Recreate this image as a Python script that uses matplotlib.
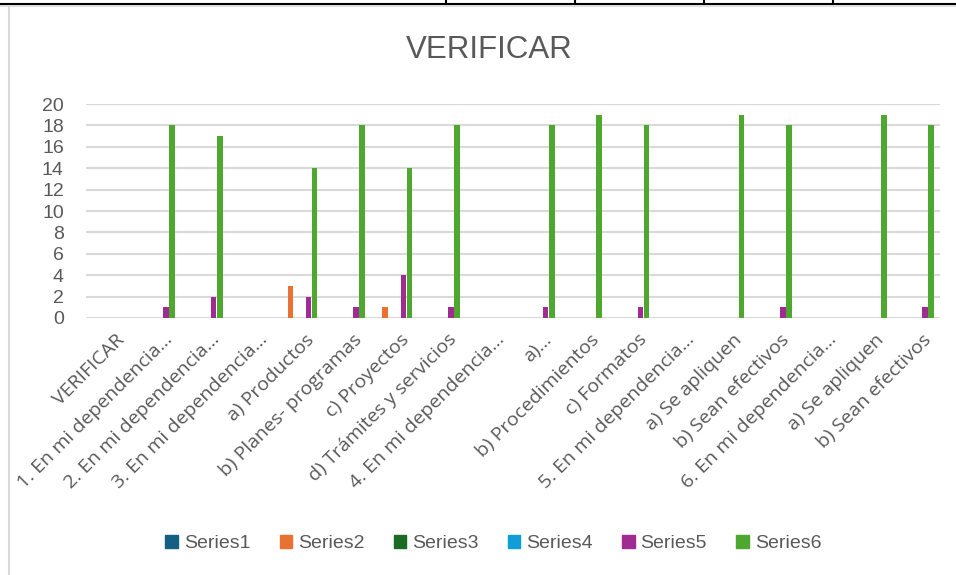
import matplotlib
matplotlib.use("Agg")
import matplotlib.pyplot as plt
import matplotlib.transforms as mtransforms
import numpy as np
from matplotlib.lines import Line2D
from matplotlib import font_manager

categories = [
    "VERIFICAR",
    "1. En mi dependencia…",
    "2. En mi dependencia…",
    "3. En mi dependencia…",
    "a) Productos",
    "b) Planes- programas",
    "c) Proyectos",
    "d) Trámites y servicios",
    "4. En mi dependencia…",
    "a)…",
    "b) Procedimientos",
    "c) Formatos",
    "5. En mi dependencia…",
    "a) Se apliquen",
    "b) Sean efectivos",
    "6. En mi dependencia…",
    "a) Se apliquen",
    "b) Sean efectivos",
]

series_names = ["Series1", "Series2", "Series3", "Series4", "Series5", "Series6"]
series1 = [0, 0, 0, 0, 0, 0, 0, 0, 0, 0, 0, 0, 0, 0, 0, 0, 0, 0]
series2 = [0, 0, 0, 0, 3, 0, 1, 0, 0, 0, 0, 0, 0, 0, 0, 0, 0, 0]
series3 = [0, 0, 0, 0, 0, 0, 0, 0, 0, 0, 0, 0, 0, 0, 0, 0, 0, 0]
series4 = [0, 0, 0, 0, 0, 0, 0, 0, 0, 0, 0, 0, 0, 0, 0, 0, 0, 0]
series5 = [0, 1, 2, 0, 2, 1, 4, 1, 0, 1, 0, 1, 0, 0, 1, 0, 0, 1]
series6 = [0, 18, 17, 0, 14, 18, 14, 18, 0, 18, 19, 18, 0, 19, 18, 0, 19, 18]
yticks = [0, 2, 4, 6, 8, 10, 12, 14, 16, 18, 20]

colors = ["#156082", "#E97132", "#196B24", "#0F9ED5", "#A02B93", "#4EA72E"]
text_color = "#595959"

available = {f.name for f in font_manager.fontManager.ttflist}
narrow = "Liberation Sans Narrow" if "Liberation Sans Narrow" in available else "Liberation Sans"

fig = plt.figure(figsize=(9.56, 5.75), dpi=100)
ax = fig.add_axes([0.090, 0.447, 0.893, 0.372])

all_series = [series1, series2, series3, series4, series5, series6]
x = np.arange(len(categories))
bw = 0.12
step = 0.127
for k, (vals, name, c) in enumerate(zip(all_series, series_names, colors)):
    off = (k - 2.5) * step
    ax.bar(x + off, vals, width=bw, color=c, label=name, zorder=3,
           edgecolor="none")

ax.set_xlim(-0.5, len(categories) - 0.5)
ax.set_ylim(0, 20)
ax.set_yticks(yticks)
ax.set_yticklabels([str(v) for v in yticks], family="Liberation Sans",
                   fontsize=14, color=text_color)
ax.yaxis.grid(True, color="#D9D9D9", linewidth=1.5, zorder=0)
ax.tick_params(axis="y", length=0, pad=16)
ax.tick_params(axis="x", length=0, pad=9)
ax.set_xticks(x)
ax.set_xticklabels(categories, rotation=45, ha="right", va="top",
                   rotation_mode="anchor", family="Open Sans",
                   fontsize=14, color=text_color)
shift = mtransforms.ScaledTranslation(6 / 100, 0, fig.dpi_scale_trans)
for lbl in ax.get_xticklabels():
    lbl.set_transform(lbl.get_transform() + shift)
for s in ax.spines.values():
    s.set_visible(False)

fig.text(0.512, 0.913, "VERIFICAR", ha="center", va="center",
         family=narrow, fontsize=22.5, color=text_color)

handles = [plt.Rectangle((0, 0), 1, 1, color=c) for c in colors]
leg = fig.legend(handles, series_names, loc="center", bbox_to_anchor=(0.516, 0.055),
                 ncol=6, frameon=False, handlelength=0.65, handleheight=0.7,
                 handletextpad=0.3, columnspacing=1.5,
                 prop={"family": "Liberation Sans", "size": 14})
for t in leg.get_texts():
    t.set_color(text_color)

# spreadsheet cell borders around the chart
H = 575.0
W = 956.0
fig.add_artist(Line2D([0, 1], [1 - 3.5 / H, 1 - 3.5 / H], color="black", linewidth=1.5,
                      transform=fig.transFigure))
fig.add_artist(Line2D([0, 1], [1 - 5.5 / H, 1 - 5.5 / H], color="#D9D9D9", linewidth=1.2,
                      transform=fig.transFigure))
for xv in [446, 575, 704, 833]:
    fig.add_artist(Line2D([xv / W, xv / W], [1, 1 - 4 / H], color="black", linewidth=1.5,
                          transform=fig.transFigure))
fig.add_artist(Line2D([9 / W, 9 / W], [0, 1 - 6 / H], color="#D9D9D9", linewidth=1.5,
                      transform=fig.transFigure))

fig.savefig("out.png", dpi=100, facecolor="white")
